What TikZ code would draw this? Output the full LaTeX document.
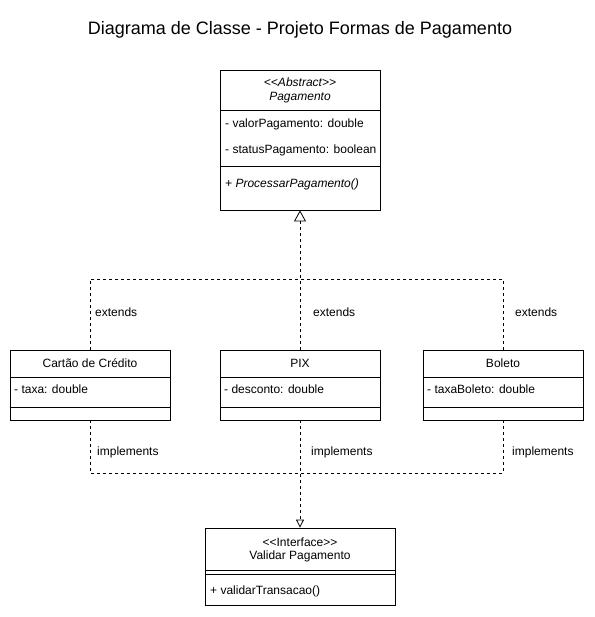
\documentclass[tikz,border=0pt]{standalone}
\usepackage{fontspec}
\setmainfont{Liberation Sans}
\usetikzlibrary{arrows.meta}
\begin{document}
\begin{tikzpicture}[x=1pt,y=-1pt,
  box/.style={draw=black,line width=0.8pt,fill=white,inner sep=0pt,rectangle},
  txt/.style={font=\fontsize{12}{14}\selectfont,inner sep=0pt},
  ltxt/.style={txt,anchor=west},
  dline/.style={line width=0.8pt,dash pattern=on 3pt off 3pt},
  sep/.style={line width=0.8pt}]
\useasboundingbox (0,0) rectangle (594,617);
\node[font=\fontsize{18}{21}\selectfont] (title) at (300,30) {Diagrama de Classe - Projeto Formas de Pagamento};
% Pagamento
\node[box,minimum width=160pt,minimum height=140pt] (pag) at (300,140) {};
\node[txt] (pagst) at (300,82) {\itshape {<}{<}Abstract{>}{>}};
\node[txt] (pagnm) at (300,98) {\itshape Pagamento};
\draw[sep] (220,110) -- (380,110);
\node[ltxt] (pa1) at (225,124) {- valorPagamento: double};
\node[ltxt] (pa2) at (225,150) {- statusPagamento: boolean};
\draw[sep] (220,166) -- (380,166);
\node[ltxt] (pm1) at (225,184) {\itshape + ProcessarPagamento()};
% children
\foreach \n/\x/\t/\a in {car/90/Cartão de Crédito/- taxa: double, pix/300/PIX/- desconto: double, bol/503/Boleto/- taxaBoleto: double}{
  \node[box,minimum width=160pt,minimum height=70pt] (\n) at (\x,385) {};
  \node[txt] (\n t) at (\x,363.5) {\t};
  \draw[sep] (\x-80,377) -- (\x+80,377);
  \node[ltxt] (\n a) at (\x-76,389.5) {\a};
  \draw[sep] (\x-80,407) -- (\x+80,407);
}
% interface
\node[box,minimum width=190pt,minimum height=77pt] (val) at (300,566.5) {};
\node[txt] (valst) at (300,542) {{<}{<}Interface{>}{>}};
\node[txt] (valnm) at (300,556) {Validar Pagamento};
\draw[sep] (205,570) -- (395,570);
\draw[sep] (205,574) -- (395,574);
\node[ltxt] (vm1) at (210,591) {+ validarTransacao()};
% connectors
\coordinate (jt) at (300,279);
\coordinate (jb) at (300,473);
\draw[dline] (car.north) |- (jt);
\draw[dline] (bol.north) |- (jt);
\draw[dline,-{Triangle[open,length=11pt,width=12pt,line width=0.8pt,fill=white]}] (pix.north) -- (pag.south);
\draw[dline] (car.south) |- (jb);
\draw[dline] (bol.south) |- (jb);
\draw[dline,-{Triangle[open,length=8pt,width=8pt,line width=0.8pt,fill=white]}] (pix.south) -- (val.north);
% labels
\node[ltxt] (e1) at (95,312) {extends};
\node[ltxt] (e2) at (313,312) {extends};
\node[ltxt] (e3) at (515,312) {extends};
\node[ltxt] (i1) at (97,452) {implements};
\node[ltxt] (i2) at (311,452) {implements};
\node[ltxt] (i3) at (512,452) {implements};
\end{tikzpicture}
\end{document}
